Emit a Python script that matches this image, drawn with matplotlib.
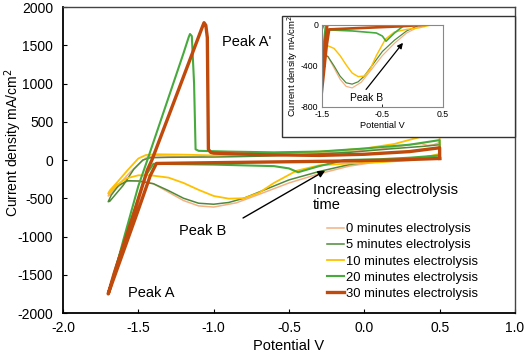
import matplotlib
matplotlib.use("Agg")
import matplotlib.pyplot as plt
from matplotlib.patches import Rectangle

plt.rcParams['font.family'] = ['Liberation Sans', 'DejaVu Sans']

labels = ["0 minutes electrolysis", "5 minutes electrolysis", "10 minutes electrolysis",
          "20 minutes electrolysis", "30 minutes electrolysis"]
colors = ["#F4B183", "#4E8A3A", "#FFC000", "#46AA3C", "#BF4A0C"]
widths = [1.1, 1.1, 1.3, 1.5, 2.4]

# potential (V) and current density (mA/cm2) for each scan
v0 = [0.5, 0.3, 0.1, -0.1, -0.3, -0.5, -0.7, -0.85, -1.0, -1.1, -1.2, -1.3, -1.4, -1.5, -1.58, -1.65, -1.7,
      -1.68, -1.62, -1.55, -1.48, -1.44, -1.38, -1.2, -1.0, -0.7, -0.4, -0.1, 0.1, 0.3, 0.38, 0.42, 0.46, 0.5, 0.5]
i0 = [40, 10, -20, -80, -180, -300, -450, -560, -615, -600, -530, -420, -310, -270, -280, -370, -470,
      -420, -300, -150, -20, 40, 55, 45, 40, 50, 80, 110, 140, 200, 215, 190, 200, 230, 40]

v5 = [0.5, 0.3, 0.12, -0.1, -0.3, -0.5, -0.65, -0.8, -0.9, -1.0, -1.1, -1.2, -1.3, -1.4, -1.5, -1.57, -1.63, -1.68, -1.7,
      -1.69, -1.66, -1.6, -1.53, -1.47, -1.42, -1.3, -1.0, -0.7, -0.4, -0.1, 0.2, 0.4, 0.5, 0.5]
i5 = [60, 20, 0, -60, -150, -260, -380, -500, -555, -578, -565, -500, -400, -310, -275, -270, -330, -460, -545,
      -540, -470, -330, -120, 0, 30, 35, 40, 50, 70, 100, 150, 180, 200, 60]

v10 = [0.5, 0.32, 0.1, -0.1, -0.3, -0.45, -0.6, -0.7, -0.8, -0.9, -1.0, -1.1, -1.2, -1.3, -1.42, -1.5, -1.58, -1.65, -1.7,
       -1.69, -1.64, -1.57, -1.5, -1.45, -1.38, -1.2, -1.0, -0.7, -0.4, -0.2, 0.0, 0.2, 0.35, 0.5, 0.5]
i10 = [80, 0, -30, -45, -70, -140, -300, -430, -500, -505, -470, -390, -300, -230, -200, -200, -240, -340, -440,
       -400, -290, -130, 20, 65, 75, 70, 60, 70, 100, 120, 150, 210, 290, 370, 80]

v20 = [0.5, 0.3, 0.1, -0.13, -0.3, -0.44, -0.5, -0.6, -0.8, -1.0, -1.2, -1.4, -1.45, -1.55, -1.65, -1.7,
       -1.68, -1.6, -1.5, -1.44, -1.3, -1.2, -1.165, -1.157, -1.145, -1.13, -1.12, -1.1, -0.9, -0.6, -0.3, 0.0, 0.3, 0.5, 0.5]
i20 = [60, 30, 10, 0, -80, -160, -110, -80, -70, -60, -55, -50, -200, -800, -1400, -1740,
       -1640, -1050, -340, 0, 815, 1397, 1610, 1647, 1620, 1000, 140, 120, 110, 100, 110, 150, 200, 260, 60]

v30 = [0.5, 0.2, -0.2, -0.6, -1.0, -1.38, -1.42, -1.5, -1.6, -1.7,
       -1.66, -1.55, -1.44, -1.41, -1.3, -1.2, -1.075, -1.064, -1.052, -1.042, -1.035, -1.02, -1.0, -0.7, -0.3, 0.0, 0.3, 0.5, 0.5]
i30 = [20, 0, -15, -25, -35, -45, -200, -650, -1200, -1750,
       -1480, -820, -130, 0, 570, 1090, 1740, 1795, 1760, 1600, 140, 100, 90, 70, 60, 75, 110, 160, 20]

scans = [(v0, i0), (v5, i5), (v10, i10), (v20, i20), (v30, i30)]

fig = plt.figure(figsize=(5.26, 3.54), dpi=100)
ax = fig.add_axes([0.1198, 0.1158, 0.8592, 0.8644])

for (v, i), c, w, lab in zip(scans, colors, widths, labels):
    ax.plot(v, i, color=c, lw=w, label=lab)

ax.set_xlim(-2.0, 1.0)
ax.set_ylim(-2000, 2000)
ax.set_xticks([-2.0, -1.5, -1.0, -0.5, 0.0, 0.5, 1.0])
ax.set_xticklabels(["-2.0", "-1.5", "-1.0", "-0.5", "0.0", "0.5", "1.0"])
ax.set_yticks(range(-2000, 2001, 500))
ax.set_yticklabels([str(t) for t in range(-2000, 2001, 500)])
ax.tick_params(direction='in', labelsize=10, length=3, width=0.8)
ax.tick_params(axis='x', pad=5.5)
ax.tick_params(axis='y', pad=7)
ax.set_xlabel("Potential V", fontsize=10.5, labelpad=3)
ax.set_ylabel("Current density mA/cm$^2$", fontsize=10)
ax.yaxis.set_label_coords(-0.086, 0.557)
for s in ['left', 'bottom']:
    ax.spines[s].set_linewidth(1.3)
    ax.spines[s].set_color('black')
for s in ['top', 'right']:
    ax.spines[s].set_linewidth(1.0)
    ax.spines[s].set_color('#444444')

ax.text(-1.57, -1740, "Peak A", fontsize=10.5, va='center')
ax.text(-0.945, 1545, "Peak A'", fontsize=10.5, va='center')
ax.text(-1.07, -930, "Peak B", fontsize=10.5, va='center', ha='center')
ax.text(-0.34, -490, "Increasing electrolysis\ntime", fontsize=10.5, va='center', linespacing=1.15)
ax.annotate("", xy=(-0.26, -140), xytext=(-0.805, -758),
            arrowprops=dict(arrowstyle='-|>', color='black', lw=1.0, mutation_scale=10,
                            shrinkA=0, shrinkB=0))

ax.legend(loc='upper left', bbox_to_anchor=(0.6217, 0.370), bbox_transform=fig.transFigure,
          frameon=False, fontsize=9.4, handlelength=1.3, handletextpad=0.15,
          labelspacing=0.31, borderpad=0, borderaxespad=0)

# inset frame and axes
fig.patches.append(Rectangle((0.536, 0.613), 0.443, 0.342, transform=fig.transFigure,
                             facecolor='white', edgecolor='#333333', lw=1.0, zorder=3))
ins = fig.add_axes([0.612, 0.698, 0.230, 0.232], zorder=4)
for (v, i), c, w in zip(scans, colors, widths):
    ins.plot(v, i, color=c, lw=w * 0.8)
ins.set_xlim(-1.5, 0.5)
ins.set_ylim(-800, 0)
ins.set_xticks([-1.5, -0.5, 0.5])
ins.set_xticklabels(["-1.5", "-0.5", "0.5"])
ins.set_yticks([-800, -400, 0])
ins.set_yticklabels(["-800", "-400", "0"])
ins.tick_params(direction='in', labelsize=6.3, length=2, width=0.6, pad=2.5)
for s in ins.spines.values():
    s.set_color('#888888')
    s.set_linewidth(0.8)
ins.set_xlabel("Potential V", fontsize=6.6, labelpad=1.5)
ins.set_ylabel("Current density mA/cm$^2$", fontsize=6.8, labelpad=1)
ins.text(-0.756, -712, "Peak B", fontsize=7.4, ha='center', va='center')
ins.annotate("", xy=(-0.16, -176), xytext=(-0.77, -630),
             arrowprops=dict(arrowstyle='-|>', color='black', lw=0.9, mutation_scale=8,
                             shrinkA=0, shrinkB=0))

fig.savefig("out.png", dpi=100)
